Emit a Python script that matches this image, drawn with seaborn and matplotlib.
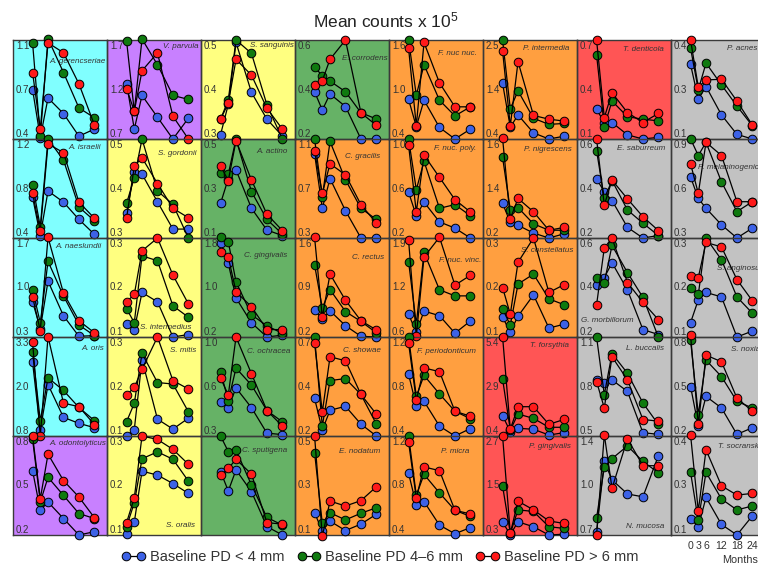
import matplotlib
matplotlib.use("Agg")
import matplotlib.pyplot as plt
from matplotlib.patches import Rectangle
from matplotlib.lines import Line2D
import pandas as pd
import seaborn as sns

MONTHS = [0, 3, 6, 12, 18, 24]

# panels listed column by column (5 rows per column)
SPECIES = [
    "A. gerencseriae", "A. israelii", "A. naeslundii", "A. oris", "A. odontolyticus",
    "V. parvula", "S. gordonii", "S. intermedius", "S. mitis", "S. oralis",
    "S. sanguinis", "A. actino", "C. gingivalis", "C. ochracea", "C. sputigena",
    "E. corrodens", "C. gracilis", "C. rectus", "C. showae", "E. nodatum",
    "F. nuc nuc.", "F. nuc. poly.", "F. nuc. vinc.", "F. periodonticum", "P. micra",
    "P. intermedia", "P. nigrescens", "S. constellatus", "T. forsythia", "P. gingivalis",
    "T. denticola", "E. saburreum", "G. morbillorum", "L. buccalis", "N. mucosa",
    "P. acnes", "P. melaninogenica", "S. anginosus", "S. noxia", "T. socranskii",
]

COMPLEX = [
    "cyan", "cyan", "cyan", "cyan", "purple",
    "purple", "yellow", "yellow", "yellow", "yellow",
    "yellow", "green", "green", "green", "green",
    "green", "orange", "orange", "orange", "orange",
    "orange", "orange", "orange", "orange", "orange",
    "orange", "orange", "orange", "red", "red",
    "red", "grey", "grey", "grey", "grey",
    "grey", "grey", "grey", "grey", "grey",
]

# axis labels shown inside each panel (top, middle, bottom); None = no labels
TOP_LABEL = ["1.1", "1.2", "1.7", "3.3", "0.8",
             "1.7", "0.5", "0.3", "0.3", "0.3",
             "0.5", "0.5", "1.8", "1.0", None,
             "0.6", "1.1", "1.6", "0.7", "0.5",
             "1.6", "1.0", "1.9", "1.2", "1.2",
             "2.5", "1.6", "0.3", "5.4", "2.7",
             "0.7", "0.6", "0.6", "1.1", "1.4",
             "0.4", "0.9", "0.3", "0.8", "0.4"]
MID_LABEL = ["0.7", "0.8", "1.0", "2.0", "0.5",
             "1.2", "0.4", "0.2", "0.2", "0.2",
             "0.4", "0.3", "1.0", "0.6", None,
             "0.4", "0.7", "0.9", "0.4", "0.3",
             "1.0", "0.6", "1.2", "0.8", "0.8",
             "1.4", "1.4", "0.2", "2.9", "1.5",
             "0.4", "0.4", "0.4", "0.8", "1.0",
             "0.3", "0.6", "0.2", "0.5", "0.3"]
BOTTOM_LABEL = ["0.4", "0.4", "0.3", "0.8", "0.2",
                "0.7", "0.3", "0.1", "0.1", "0.1",
                "0.3", "0.1", "0.2", "0.3", None,
                "0.2", "0.3", "0.2", "0.2", "0.1",
                "0.4", "0.2", "0.6", "0.4", "0.4",
                "0.4", "0.2", "0.1", "0.4", "0.3",
                "0.1", "0.2", "0.2", "0.5", "0.7",
                "0.1", "0.3", "0.1", "0.2", "0.1"]

# Baseline PD < 4 mm
BLUE = [
    [0.75, 0.41, 0.69, 0.58, 0.42, 0.47],
    [0.73, 0.42, 0.78, 0.69, 0.55, 0.43],
    [0.80, 0.42, 1.09, 0.60, 0.31, 0.32],
    [2.66, 0.95, 2.10, 1.27, 1.12, 1.01],
    [0.59, 0.35, 0.40, 0.30, 0.20, 0.22],
    [1.26, 0.80, 1.14, 0.92, 0.70, 0.91],
    [0.35, 0.434, 0.429, 0.373, 0.318, 0.318],
    [0.126, 0.115, 0.19, 0.171, 0.10, 0.105],
    [0.10, 0.113, 0.254, 0.134, 0.114, 0.136],
    [0.102, 0.126, 0.229, 0.221, 0.204, 0.184],
    [0.309, 0.37, 0.495, 0.394, 0.34, 0.306],
    [0.24, 0.34, 0.375, 0.22, 0.132, 0.11],
    [1.72, 1.39, 0.83, 0.43, 0.20, 0.23],
    [0.54, 0.50, 0.64, 0.50, 0.32, 0.31],
    [0.356, 0.278, 0.363, 0.275, 0.134, 0.10],
    [0.391, 0.317, 0.382, 0.331, 0.20, 0.20],
    [0.98, 0.54, 0.78, 0.52, 0.30, 0.30],
    [0.58, 0.45, 0.57, 0.36, 0.21, 0.20],
    [0.39, 0.23, 0.33, 0.35, 0.26, 0.20],
    [0.19, 0.116, 0.156, 0.118, 0.144, 0.184],
    [0.88, 0.55, 0.87, 0.54, 0.40, 0.52],
    [0.57, 0.38, 0.49, 0.33, 0.28, 0.20],
    [0.90, 0.66, 0.94, 0.88, 0.65, 0.81],
    [0.90, 0.64, 0.68, 0.48, 0.40, 0.46],
    [0.90, 0.64, 0.67, 0.48, 0.41, 0.46],
    [1.58, 0.65, 0.91, 0.53, 0.40, 0.46],
    [0.69, 0.42, 0.38, 0.27, 0.20, 0.26],
    [0.14, 0.11, 0.142, 0.185, 0.118, 0.126],
    [1.43, 0.62, 0.79, 0.74, 0.45, 0.57],
    [0.61, 0.31, 0.62, 0.50, 0.30, 0.32],
    [0.28, 0.20, 0.20, 0.125, 0.10, 0.11],
    [0.438, 0.387, 0.351, 0.243, 0.20, 0.21],
    [0.41, 0.44, 0.50, 0.39, 0.23, 0.21],
    [0.84, 0.82, 0.84, 0.77, 0.52, 0.51],
    [0.72, 1.22, 1.09, 0.99, 0.97, 1.26],
    [0.326, 0.22, 0.259, 0.173, 0.114, 0.10],
    [0.67, 0.54, 0.48, 0.38, 0.30, 0.36],
    [0.129, 0.175, 0.19, 0.181, 0.10, 0.112],
    [0.50, 0.26, 0.44, 0.37, 0.21, 0.25],
    [0.149, 0.125, 0.214, 0.132, 0.10, 0.158],
]

# Baseline PD 4-6 mm
GREEN = [
    [1.08, 0.42, 1.11, 0.87, 0.62, 0.55],
    [0.83, 0.49, 1.20, 1.03, 0.65, 0.54],
    [0.97, 0.50, 1.37, 0.88, 0.47, 0.32],
    [2.91, 1.19, 2.27, 1.95, 1.52, 1.19],
    [0.78, 0.40, 0.55, 0.44, 0.33, 0.30],
    [1.69, 0.98, 1.71, 1.45, 1.14, 1.10],
    [0.37, 0.422, 0.50, 0.395, 0.368, 0.30],
    [0.157, 0.129, 0.264, 0.254, 0.163, 0.14],
    [0.129, 0.166, 0.267, 0.208, 0.205, 0.149],
    [0.117, 0.165, 0.254, 0.268, 0.253, 0.209],
    [0.34, 0.379, 0.50, 0.473, 0.369, 0.30],
    [0.364, 0.358, 0.50, 0.287, 0.175, 0.116],
    [1.82, 1.74, 1.09, 0.56, 0.38, 0.26],
    [0.755, 0.55, 0.78, 0.66, 0.48, 0.40],
    [0.50, 0.437, 0.443, 0.302, 0.171, 0.14],
    [0.49, 0.456, 0.434, 0.391, 0.306, 0.281],
    [1.10, 0.63, 1.08, 0.77, 0.54, 0.45],
    [1.22, 0.61, 0.87, 0.56, 0.42, 0.26],
    [0.70, 0.25, 0.48, 0.49, 0.41, 0.26],
    [0.433, 0.147, 0.19, 0.161, 0.188, 0.21],
    [1.60, 0.93, 1.30, 0.87, 0.68, 0.79],
    [1.00, 0.59, 0.82, 0.44, 0.47, 0.38],
    [1.59, 0.77, 1.71, 1.22, 1.14, 1.14],
    [1.20, 0.72, 0.89, 0.74, 0.60, 0.54],
    [1.20, 0.72, 0.89, 0.74, 0.60, 0.55],
    [2.50, 1.04, 1.42, 0.84, 0.71, 0.73],
    [1.34, 0.60, 0.63, 0.40, 0.31, 0.31],
    [0.157, 0.124, 0.207, 0.227, 0.177, 0.165],
    [3.28, 0.70, 1.51, 1.29, 0.84, 0.84],
    [1.49, 0.34, 0.91, 0.87, 0.50, 0.46],
    [0.61, 0.175, 0.33, 0.235, 0.22, 0.21],
    [0.553, 0.36, 0.432, 0.313, 0.26, 0.21],
    [0.44, 0.42, 0.57, 0.46, 0.36, 0.20],
    [1.10, 0.75, 1.00, 0.88, 0.70, 0.57],
    [0.82, 1.18, 1.24, 1.33, 1.22, 1.14],
    [0.375, 0.249, 0.33, 0.264, 0.20, 0.14],
    [0.90, 0.80, 0.88, 0.64, 0.46, 0.52],
    [0.20, 0.186, 0.30, 0.256, 0.181, 0.148],
    [0.78, 0.33, 0.66, 0.56, 0.41, 0.37],
    [0.29, 0.144, 0.29, 0.209, 0.176, 0.188],
]

# Baseline PD > 6 mm
RED = [
    [0.87, 0.47, 1.08, 1.01, 0.79, 0.50],
    [0.76, 0.46, 1.16, 1.09, 0.69, 0.56],
    [0.87, 0.39, 1.71, 0.92, 0.53, 0.36],
    [3.17, 0.80, 3.31, 1.63, 1.54, 1.09],
    [0.80, 0.42, 0.69, 0.53, 0.43, 0.305],
    [1.21, 0.98, 1.39, 1.57, 0.93, 0.70],
    [0.34, 0.445, 0.462, 0.41, 0.36, 0.341],
    [0.171, 0.186, 0.274, 0.30, 0.225, 0.167],
    [0.183, 0.198, 0.235, 0.30, 0.212, 0.195],
    [0.125, 0.175, 0.30, 0.293, 0.273, 0.243],
    [0.34, 0.372, 0.461, 0.429, 0.362, 0.32],
    [0.391, 0.332, 0.493, 0.334, 0.196, 0.13],
    [1.57, 1.49, 0.93, 0.69, 0.32, 0.32],
    [0.71, 0.59, 1.00, 0.74, 0.48, 0.37],
    [0.342, 0.369, 0.406, 0.346, 0.15, 0.144],
    [0.418, 0.436, 0.522, 0.60, 0.306, 0.255],
    [1.00, 0.66, 0.90, 0.81, 0.57, 0.42],
    [1.61, 0.48, 1.09, 0.72, 0.43, 0.30],
    [0.67, 0.32, 0.60, 0.58, 0.41, 0.31],
    [0.50, 0.095, 0.237, 0.217, 0.239, 0.295],
    [1.50, 0.56, 1.57, 1.08, 0.79, 0.79],
    [0.95, 0.41, 0.87, 0.69, 0.51, 0.41],
    [1.87, 0.61, 1.65, 1.91, 1.28, 1.41],
    [1.15, 0.69, 0.95, 0.92, 0.60, 0.56],
    [1.15, 0.70, 0.95, 0.92, 0.60, 0.57],
    [2.27, 0.68, 2.04, 0.90, 0.82, 0.78],
    [1.61, 0.47, 0.76, 0.57, 0.31, 0.35],
    [0.20, 0.146, 0.251, 0.30, 0.19, 0.206],
    [5.42, 0.74, 1.88, 1.88, 0.99, 1.24],
    [2.70, 0.34, 1.12, 0.91, 0.64, 0.58],
    [0.70, 0.23, 0.38, 0.26, 0.20, 0.255],
    [0.60, 0.333, 0.434, 0.358, 0.286, 0.23],
    [0.33, 0.56, 0.60, 0.42, 0.34, 0.27],
    [0.83, 0.67, 0.98, 0.84, 0.60, 0.59],
    [0.70, 1.41, 1.03, 1.38, 1.19, 1.19],
    [0.40, 0.257, 0.279, 0.281, 0.215, 0.142],
    [0.75, 0.57, 0.88, 0.80, 0.52, 0.52],
    [0.224, 0.22, 0.291, 0.282, 0.216, 0.173],
    [0.81, 0.27, 0.69, 0.65, 0.43, 0.35],
    [0.403, 0.173, 0.358, 0.249, 0.221, 0.226],
]

SERIES_NAMES = ["Baseline PD < 4 mm", "Baseline PD 4\u20136 mm", "Baseline PD > 6 mm"]

# ---------------- styling / layout ----------------
BG_COLORS = {"cyan": "#80ffff", "purple": "#c880ff", "yellow": "#ffff80",
             "green": "#66b266", "orange": "#ff9f40", "red": "#ff5555",
             "grey": "#c2c2c2"}
DOT_COLORS = ["#3d62e6", "#0f7a0f", "#ff1a1a"]
TXT = "#333333"

# species label placement (x, y in axes fraction, horizontal alignment)
LABEL_POS = [
    (0.99, 0.78, "right"), (0.94, 0.91, "right"), (0.94, 0.91, "right"), (0.97, 0.88, "right"), (0.99, 0.92, "right"),
    (0.98, 0.93, "right"), (0.95, 0.85, "right"), (0.90, 0.10, "right"), (0.95, 0.86, "right"), (0.94, 0.10, "right"),
    (0.99, 0.94, "right"), (0.92, 0.87, "right"), (0.92, 0.82, "right"), (0.95, 0.85, "right"), (0.92, 0.85, "right"),
    (0.99, 0.81, "right"), (0.91, 0.82, "right"), (0.95, 0.80, "right"), (0.92, 0.86, "right"), (0.91, 0.84, "right"),
    (0.94, 0.86, "right"), (0.93, 0.90, "right"), (0.98, 0.77, "right"), (0.92, 0.85, "right"), (0.86, 0.84, "right"),
    (0.92, 0.91, "right"), (0.94, 0.89, "right"), (0.96, 0.87, "right"), (0.92, 0.91, "right"), (0.93, 0.89, "right"),
    (0.925, 0.90, "right"), (0.94, 0.90, "right"), (0.04, 0.165, "left"), (0.93, 0.88, "right"), (0.93, 0.09, "right"),
    (0.60, 0.91, "left"), (0.29, 0.71, "left"), (0.49, 0.69, "left"), (0.64, 0.87, "left"), (0.50, 0.89, "left"),
]

sns.set_theme(style="white")
plt.rcParams["font.family"] = ["Liberation Sans", "DejaVu Sans"]
plt.rcParams["mathtext.default"] = "regular"

W, H = 758, 568
fig = plt.figure(figsize=(W / 100, H / 100), dpi=100)

L0, T0, CW, RH = 13, 40, 94, 99
NROWS = 5
axes = []
for idx, name in enumerate(SPECIES):
    col, row = divmod(idx, NROWS)
    left = L0 + col * CW
    top = T0 + row * RH
    ax = fig.add_axes([left / W, 1 - (top + RH) / H, CW / W, RH / H])
    ax.patch.set_visible(False)
    fig.add_artist(Rectangle((0, 0), 1, 1, transform=ax.transAxes,
                             facecolor=BG_COLORS[COMPLEX[idx]], edgecolor="none", zorder=-5))
    for vals, dot in zip((BLUE[idx], GREEN[idx], RED[idx]), DOT_COLORS):
        df = pd.DataFrame({"month": MONTHS, "value": vals})
        sns.lineplot(data=df, x="month", y="value", ax=ax, estimator=None, sort=False,
                     color="black", lw=0.9, marker="o", markersize=6.2,
                     markerfacecolor=dot, markeredgecolor="black", markeredgewidth=0.7,
                     clip_on=False, zorder=3)
    ax.set_xlim(-7.6, 28.9)
    if TOP_LABEL[idx] is not None:
        ax.set_ylim(float(BOTTOM_LABEL[idx]), float(TOP_LABEL[idx]))
        for lab, yy in ((TOP_LABEL[idx], 0.94), (MID_LABEL[idx], 0.5), (BOTTOM_LABEL[idx], 0.055)):
            ax.text(0.03, yy, lab, transform=ax.transAxes, ha="left", va="center",
                    fontsize=7, color=TXT, zorder=2)
    else:
        ax.set_ylim(0.1, 0.5)
    lx, ly, lha = LABEL_POS[idx]
    ax.text(lx, ly, name, transform=ax.transAxes, ha=lha, va="center",
            fontsize=5.8, style="italic", color=TXT, zorder=2, clip_on=False)
    ax.set_xlabel("")
    ax.set_ylabel("")
    ax.set_yticks([])
    for sp in ax.spines.values():
        sp.set_color("#3a3a3a")
        sp.set_linewidth(1.0)
        sp.set_zorder(2.5)
    if idx == len(SPECIES) - 1:
        ax.set_xticks(MONTHS)
        ax.set_xticklabels([str(m) for m in MONTHS])
        ax.tick_params(axis="x", length=0, pad=4, labelsize=7.6, labelcolor=TXT)
    else:
        ax.set_xticks([])
    axes.append(ax)

fig.text(722 / W, 1 - 560 / H, "Months", ha="left", va="center", fontsize=7.8, color=TXT)
fig.text(386 / W, 1 - 20 / H, r"Mean counts x 10$^{5}$", ha="center", va="center",
         fontsize=12.5, color="#222222")

handles = [Line2D([0], [0], color="black", lw=0.9, marker="o", markersize=6.2,
                  markerfacecolor=c, markeredgecolor="black", markeredgewidth=0.7)
           for c in DOT_COLORS]
fig.legend(handles, SERIES_NAMES, loc="center", bbox_to_anchor=(380 / W, 1 - 557 / H),
           ncol=3, frameon=False, fontsize=10.5, numpoints=2, handlelength=1.6,
           handletextpad=0.3, columnspacing=0.9, labelcolor=TXT, borderpad=0.2)

fig.savefig("out.png", dpi=100)
